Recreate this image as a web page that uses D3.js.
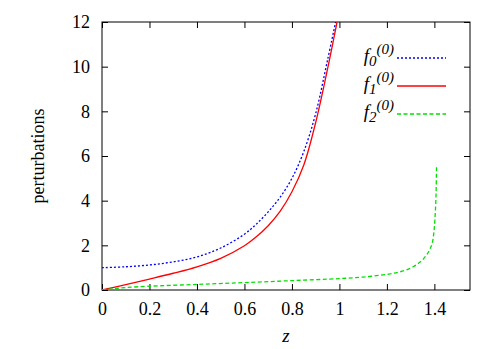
<!DOCTYPE html>
<html>
<head>
<meta charset="utf-8">
<script src="https://cdn.jsdelivr.net/npm/d3@7"></script>
</head>
<body style="margin:0">
<div id="c"></div>
<script>
// Perturbation curves
const zBlue = [0, 0.1, 0.2, 0.3, 0.4, 0.5, 0.6, 0.65, 0.7, 0.75, 0.8, 0.85, 0.9, 0.95, 0.984]
const fBlue = [1.0, 1.04, 1.12, 1.26, 1.48, 1.88, 2.5, 2.95, 3.5, 4.15, 5.0, 6.2, 7.9, 10.3, 12]

const zRed = [0, 0.1, 0.2, 0.3, 0.4, 0.5, 0.6, 0.65, 0.7, 0.75, 0.8, 0.85, 0.9, 0.95, 0.99]
const fRed = [0, 0.24, 0.49, 0.75, 1.04, 1.42, 1.98, 2.38, 2.88, 3.52, 4.4, 5.6, 7.5, 9.9, 12]

const zGreen = [0, 0.05, 0.1, 0.2, 0.4, 0.6, 0.8, 1.0, 1.1, 1.2, 1.25, 1.3, 1.34, 1.366, 1.38, 1.391, 1.398, 1.403, 1.407, 1.409]
const fGreen = [0, 0.06, 0.11, 0.17, 0.25, 0.33, 0.42, 0.51, 0.58, 0.7, 0.8, 0.98, 1.25, 1.55, 1.8, 2.1, 2.6, 3.3, 4.3, 5.55]

const xTicks = [0, 0.2, 0.4, 0.6, 0.8, 1, 1.2, 1.4]
const yTicks = [0, 2, 4, 6, 8, 10, 12]

const series = [
  { sub: '0', z: zBlue, f: fBlue, color: '#0000ff', dash: '2,2' },
  { sub: '1', z: zRed, f: fRed, color: '#ff0000', dash: null },
  { sub: '2', z: zGreen, f: fGreen, color: '#00e000', dash: '4,2.5' }
]

const width = 498
const height = 349
const plot = { left: 102, right: 470, top: 22, bottom: 290 }

// serif text helper
const serif = (sel, size) => sel
  .style('font-family', d => `'Liberation Serif'`, 'important')
  .style('font-size', size + 'px')

const svg = d3.select('#c')
  .append('svg')
  .attr('width', width)
  .attr('height', height)

const x = d3.scaleLinear().domain([0, 1.55]).range([plot.left, plot.right])
const y = d3.scaleLinear().domain([0, 12]).range([plot.bottom, plot.top])

svg.append('clipPath').attr('id', 'clip')
  .append('rect')
  .attr('x', plot.left).attr('y', plot.top)
  .attr('width', plot.right - plot.left).attr('height', plot.bottom - plot.top)

// Axes with inward ticks, mirrored on top and right
const tickLen = 6
const styleAxis = g => {
  g.attr('font-family', null).attr('font-size', null)
  g.select('.domain').remove()
  g.selectAll('.tick line').attr('stroke', '#000').attr('stroke-width', 1)
  g.selectAll('text').attr('fill', '#000').call(serif, 18)
}

svg.append('g')
  .attr('transform', `translate(0, ${plot.bottom})`)
  .call(d3.axisBottom(x).tickValues(xTicks).tickSize(-tickLen).tickFormat(d3.format('')))
  .call(styleAxis)
  .call(g => g.selectAll('text').attr('y', 25).attr('dy', null))

svg.append('g')
  .attr('transform', `translate(0, ${plot.top})`)
  .call(d3.axisTop(x).tickValues(xTicks).tickSize(-tickLen).tickFormat(''))
  .call(styleAxis)

svg.append('g')
  .attr('transform', `translate(${plot.left}, 0)`)
  .call(d3.axisLeft(y).tickValues(yTicks).tickSize(-tickLen).tickFormat(d3.format('')))
  .call(styleAxis)
  .call(g => g.selectAll('text').attr('x', -12).attr('dy', '0.33em'))

svg.append('g')
  .attr('transform', `translate(${plot.right}, 0)`)
  .call(d3.axisRight(y).tickValues(yTicks).tickSize(-tickLen).tickFormat(''))
  .call(styleAxis)

// Border
svg.append('rect')
  .attr('x', plot.left).attr('y', plot.top)
  .attr('width', plot.right - plot.left).attr('height', plot.bottom - plot.top)
  .attr('fill', 'none').attr('stroke', '#000').attr('stroke-width', 1)

// Curves
const line = d3.line()
  .x(d => x(d[0]))
  .y(d => y(d[1]))
  .curve(d3.curveCatmullRom.alpha(0.5))

svg.append('g').attr('clip-path', 'url(#clip)')
  .selectAll('path')
  .data(series)
  .enter().append('path')
  .attr('d', s => line(s.z.map((z, i) => [z, s.f[i]])))
  .attr('fill', 'none')
  .attr('stroke', s => s.color)
  .attr('stroke-width', 1.3)
  .attr('stroke-dasharray', s => s.dash)

// Legend
const legend = svg.append('g')
  .selectAll('g')
  .data(series)
  .enter().append('g')
  .attr('transform', (d, i) => `translate(0, ${58 + i * 28})`)

legend.append('line')
  .attr('x1', 397).attr('x2', 446)
  .attr('stroke', s => s.color)
  .attr('stroke-width', 1.3)
  .attr('stroke-dasharray', s => s.dash)

const label = legend.append('text')
  .attr('x', 394).attr('y', 4)
  .attr('text-anchor', 'end')
  .call(serif, 19)
  .style('font-style', 'italic')
label.append('tspan').text('f')
label.append('tspan').attr('dy', 4).style('font-size', '15px').text(s => s.sub)
label.append('tspan').attr('dy', -12).style('font-size', '15px').text('(0)')

// Axis titles
svg.append('text')
  .attr('transform', `translate(44, ${(plot.top + plot.bottom) / 2}) rotate(-90)`)
  .attr('text-anchor', 'middle')
  .call(serif, 18)
  .text('perturbations')

svg.append('text')
  .attr('x', (plot.left + plot.right) / 2)
  .attr('y', 342)
  .attr('text-anchor', 'middle')
  .call(serif, 19)
  .style('font-style', 'italic')
  .text('z')
</script>
</body>
</html>
